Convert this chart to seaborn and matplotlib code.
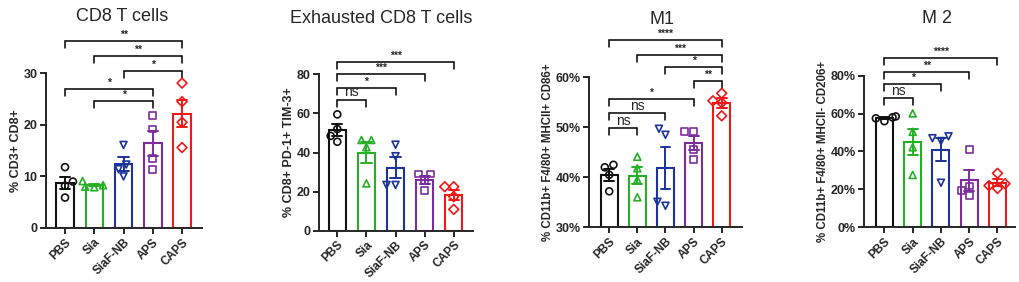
import numpy as np
import pandas as pd
import seaborn as sns
import matplotlib
matplotlib.use("Agg")
import matplotlib.pyplot as plt
from matplotlib.ticker import FuncFormatter

# grupos y colores
groups = ["PBS", "Sia", "SiaF-NB", "APS", "CAPS"]
colors = ["#111111", "#25b025", "#1c3399", "#7b2d9c", "#f01818"]
markers = ["o", "^", "v", "s", "D"]

# valores (4 ratones por grupo)
cd8 = [[11.8, 9.0, 8.2, 5.9],
       [9.1, 8.3, 7.9, 8.0],
       [16.1, 12.3, 11.4, 10.0],
       [21.8, 19.2, 13.4, 11.4],
       [28.1, 24.5, 20.5, 15.6]]
exh = [[59.5, 52.0, 48.5, 45.5],
       [46.4, 46.4, 42.7, 24.2],
       [44.0, 38.1, 23.4, 23.4],
       [29.0, 29.0, 25.6, 20.5],
       [22.5, 22.5, 17.4, 10.9]]
m1 = [[42.0, 42.5, 40.5, 37.2],
      [44.1, 41.8, 39.5, 36.0],
      [49.7, 48.5, 34.3, 35.1],
      [49.1, 49.1, 45.6, 43.5],
      [56.8, 55.3, 54.9, 52.3]]
m2 = [[57.5, 56.0, 58.5, 58.0],
      [60.1, 50.4, 42.2, 27.6],
      [48.0, 47.0, 45.5, 23.5],
      [41.1, 21.8, 19.3, 17.0],
      [28.5, 23.0, 22.0, 20.5]]

# comparaciones: (grupo a, grupo b, altura, texto)
sig_cd8 = [(0, 4, 36.2, "**"), (1, 4, 33.4, "**"), (2, 4, 30.5, "*"),
           (0, 3, 27.0, "*"), (1, 3, 24.6, "*")]
sig_exh = [(0, 4, 86.4, "***"), (0, 3, 80.0, "***"), (0, 2, 72.9, "*"),
           (0, 1, 66.9, "ns")]
sig_m1 = [(0, 4, 67.5, "****"), (1, 4, 64.5, "***"), (2, 4, 62.1, "*"),
          (3, 4, 59.3, "**"), (0, 3, 55.7, "*"), (0, 2, 52.8, "ns"),
          (0, 1, 49.8, "ns")]
sig_m2 = [(0, 4, 89.2, "****"), (0, 3, 82.1, "**"), (0, 2, 75.4, "*"),
          (0, 1, 68.0, "ns")]

sns.set_theme(style="ticks")
plt.rcParams["font.family"] = ["Liberation Sans", "DejaVu Sans"]
plt.rcParams["axes.linewidth"] = 1.4


def to_df(vals):
    rows = []
    for g, vs in zip(groups, vals):
        for v in vs:
            rows.append((g, v))
    return pd.DataFrame(rows, columns=["grupo", "valor"])


def panel(ax, vals, sigs, ylim, yticks, ylabel, xlim, pct=False, ylsize=9):
    df = to_df(vals)
    sns.barplot(data=df, x="grupo", y="valor", hue="grupo", order=groups,
                hue_order=groups, palette=colors, fill=False, width=0.6,
                errorbar="se", capsize=0.35, linewidth=1.5,
                err_kws={"linewidth": 1.4}, legend=False, ax=ax)
    # colorear las barras de error como las barras
    for ln, c in zip(ax.lines, colors):
        ln.set_color(c)
    for g, c, m in zip(groups, colors, markers):
        n0 = len(ax.collections)
        sns.swarmplot(data=df[df.grupo == g], x="grupo", y="valor",
                      order=groups, marker=m, color=c, size=5.0,
                      ax=ax, zorder=5)
        # marcadores huecos
        for coll in ax.collections[n0:]:
            coll.set_facecolor("none")
            coll.set_edgecolor(c)
            coll.set_linewidth(1.2)

    ax.set_ylim(*ylim)
    ax.set_xlim(*xlim)
    ax.set_yticks(yticks)
    if pct:
        ax.yaxis.set_major_formatter(FuncFormatter(lambda v, p: f"{v:.0f}%"))
    sns.despine(ax=ax)
    ax.set_xlabel("")
    ax.set_ylabel(ylabel, fontsize=ylsize, fontweight="bold", labelpad=1)
    ax.tick_params(axis="both", width=1.4, length=4, labelsize=9, pad=2)
    ax.set_xticks(range(len(groups)))
    ax.set_xticklabels(groups, rotation=45, ha="right", rotation_mode="anchor",
                       fontweight="bold", fontsize=8.5)
    for t in ax.get_yticklabels():
        t.set_fontweight("bold")

    # corchetes de significancia
    leg = 0.045 * (ylim[1] - ylim[0])
    for a, b, h, txt in sigs:
        ax.plot([a, a, b, b], [h - leg, h, h, h - leg], color="black",
                lw=1.1, clip_on=False, solid_joinstyle="miter")
        if txt == "ns":
            ax.text((a + b) / 2, h + 0.005 * (ylim[1] - ylim[0]), txt,
                    ha="center", va="bottom", fontsize=10)
        else:
            ax.text((a + b) / 2, h + 0.008 * (ylim[1] - ylim[0]), txt,
                    ha="center", va="bottom", fontsize=7.5, fontweight="bold")


fig = plt.figure(figsize=(10.2, 2.82), dpi=100)
ax1 = fig.add_axes([0.0451, 0.1915, 0.1526, 0.5486])
ax2 = fig.add_axes([0.3127, 0.1819, 0.1510, 0.5546])
ax3 = fig.add_axes([0.5777, 0.1940, 0.1497, 0.5319])
ax4 = fig.add_axes([0.8474, 0.1940, 0.1480, 0.5376])

panel(ax1, cd8, sig_cd8, (0, 30), [0, 10, 20, 30], "% CD3+ CD8+", (-0.65, 4.67))
panel(ax2, exh, sig_exh, (0, 80), [0, 20, 40, 60, 80],
      "% CD8+ PD-1+ TIM-3+", (-0.63, 4.66))
panel(ax3, m1, sig_m1, (30, 60), [30, 40, 50, 60],
      "% CD11b+ F4/80+ MHCII+ CD86+", (-0.71, 4.72), pct=True, ylsize=8.3)
panel(ax4, m2, sig_m2, (0, 80), [0, 20, 40, 60, 80],
      "% CD11b+ F4/80+ MHCII- CD206+", (-0.71, 4.63), pct=True, ylsize=8.3)

fig.text(122.5 / 1020, 1 - 16.7 / 282, "CD8 T cells", ha="center", va="center", fontsize=13)
fig.text(381 / 1020, 1 - 18.3 / 282, "Exhausted CD8 T cells", ha="center", va="center", fontsize=13)
fig.text(661.7 / 1020, 1 - 19 / 282, "M1", ha="center", va="center", fontsize=13)
fig.text(937.5 / 1020, 1 - 18.3 / 282, "M 2", ha="center", va="center", fontsize=13)

fig.savefig("out.png", dpi=100)
